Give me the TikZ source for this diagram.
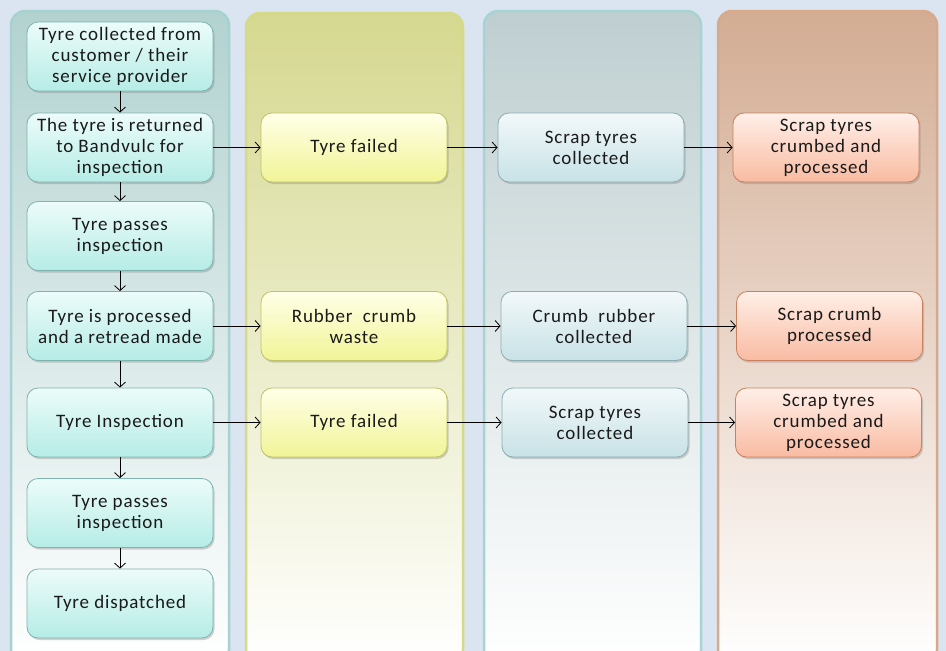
\documentclass[tikz,border=0pt]{standalone}
\usepackage{fontspec}
\setmainfont{Carlito}[LetterSpace=4.5]
\usetikzlibrary{arrows.meta,shadows}
\definecolor{bgblue}{HTML}{DBE5F1}
\definecolor{laneAtop}{HTML}{B2D2D0}
\definecolor{laneAline}{HTML}{A6D2CF}
\definecolor{laneBtop}{HTML}{D5D88F}
\definecolor{laneBline}{HTML}{D6DA88}
\definecolor{laneCtop}{HTML}{BFCFD1}
\definecolor{laneCline}{HTML}{A8D3D3}
\definecolor{laneDtop}{HTML}{D3AC93}
\definecolor{laneDline}{HTML}{D9A98C}
\definecolor{boxAtop}{HTML}{ECFCFA}
\definecolor{boxAbot}{HTML}{B6ECE6}
\definecolor{boxAline}{HTML}{7FB3AE}
\definecolor{boxBtop}{HTML}{FFFFE8}
\definecolor{boxBbot}{HTML}{F1F497}
\definecolor{boxBline}{HTML}{BFC266}
\definecolor{boxCtop}{HTML}{F2F8FA}
\definecolor{boxCbot}{HTML}{C8E2E6}
\definecolor{boxCline}{HTML}{8BAEB3}
\definecolor{boxDtop}{HTML}{FFEFE8}
\definecolor{boxDbot}{HTML}{F9BBA2}
\definecolor{boxDline}{HTML}{C7815E}
\definecolor{txt}{HTML}{1A1A1A}
\begin{document}
\begin{tikzpicture}[x=1pt,y=-1pt,
  lane/.style={rounded corners=14pt, line width=2.5pt, bottom color=white},
  box/.style={rounded corners=11pt, draw, line width=0.8pt,
    minimum width=186pt, minimum height=69pt, inner sep=2pt, align=center,
    font=\fontsize{19}{21}\selectfont, text=txt,
    drop shadow={opacity=0.35, shadow xshift=1.5pt, shadow yshift=-2pt}},
  boxA/.style={box, draw=boxAline, top color=boxAtop, bottom color=boxAbot},
  boxB/.style={box, draw=boxBline, top color=boxBtop, bottom color=boxBbot},
  boxC/.style={box, draw=boxCline, top color=boxCtop, bottom color=boxCbot},
  boxD/.style={box, draw=boxDline, top color=boxDtop, bottom color=boxDbot},
  arr/.style={line width=0.8pt, -{Straight Barb[length=5pt, width=11pt, line width=0.8pt]}}
]
\useasboundingbox (0,0) rectangle (946,651);
\fill[bgblue] (0,0) rectangle (946,651);
\begin{scope}
\clip (0,0) rectangle (946,651);
\draw[lane, draw=laneAline, top color=laneAtop] (11,11) rectangle (229,664);
\draw[lane, draw=laneBline, top color=laneBtop] (246,13) rectangle (463,664);
\draw[lane, draw=laneCline, top color=laneCtop] (484,11) rectangle (701,664);
\draw[lane, draw=laneDline, top color=laneDtop] (718,11) rectangle (937,664);
\end{scope}

% lane 1
\node[boxA] (a1) at (120,56.5) {Tyre collected from\\customer / their\\service provider};
\node[boxA] (a2) at (120,147.5) {The tyre is returned\\to Bandvulc for\\inspection};
\node[boxA] (a3) at (120,236) {Tyre passes\\inspection};
\node[boxA] (a4) at (120,326) {Tyre is processed\\and a retread made};
\node[boxA] (a5) at (120,422.5) {Tyre Inspection};
\node[boxA] (a6) at (120,513) {Tyre passes\\inspection};
\node[boxA] (a7) at (120,603.5) {Tyre dispatched};

% lane 2
\node[boxB] (b1) at (354,147.5) {Tyre failed};
\node[boxB] (b2) at (354,326) {Rubber\ \ crumb\\waste};
\node[boxB] (b3) at (354,422.5) {Tyre failed};

% lane 3
\node[boxC] (c1) at (591,147.5) {Scrap tyres\\collected};
\node[boxC] (c2) at (594,326) {Crumb\ \ rubber\\collected};
\node[boxC] (c3) at (595,422.5) {Scrap tyres\\collected};

% lane 4
\node[boxD] (d1) at (826,147.5) {Scrap tyres\\crumbed and\\processed};
\node[boxD] (d2) at (829.5,326) {Scrap crumb\\processed};
\node[boxD] (d3) at (828.5,422.5) {Scrap tyres\\crumbed and\\processed};

% vertical arrows
\draw[arr] (a1) -- (a2);
\draw[arr] (a2) -- (a3);
\draw[arr] (a3) -- (a4);
\draw[arr] (a4) -- (a5);
\draw[arr] (a5) -- (a6);
\draw[arr] (a6) -- (a7);

% horizontal arrows
\draw[arr] (a2) -- (b1);
\draw[arr] (b1) -- (c1);
\draw[arr] (c1) -- (d1);
\draw[arr] (a4) -- (b2);
\draw[arr] (b2) -- (c2);
\draw[arr] (c2) -- (d2);
\draw[arr] (a5) -- (b3);
\draw[arr] (b3) -- (c3);
\draw[arr] (c3) -- (d3);
\end{tikzpicture}
\end{document}
